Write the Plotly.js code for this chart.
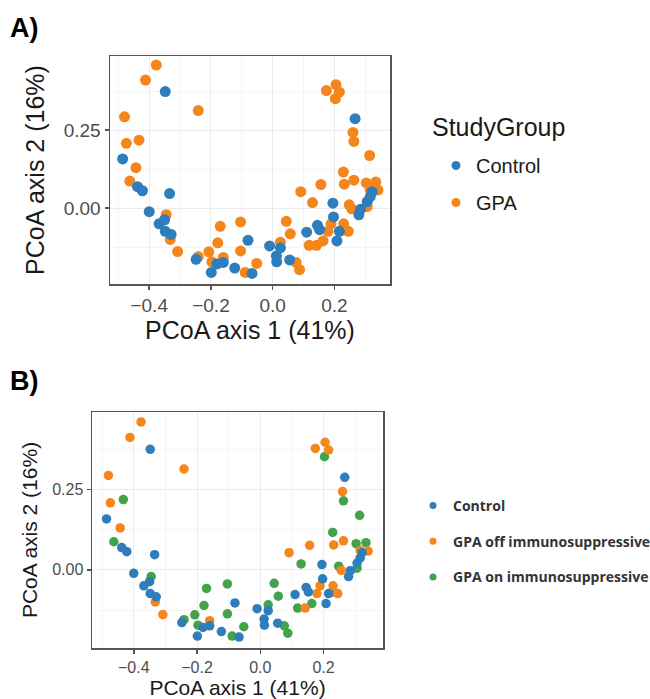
<!DOCTYPE html>
<html>
<head>
<meta charset="utf-8">
<script src="https://cdn.plot.ly/plotly-3.0.1.min.js"></script>
<style>
  html, body { margin: 0; padding: 0; background: #ffffff; }
  #chart { width: 650px; height: 699px; }
</style>
</head>
<body>
<div id="chart"></div>
<script>
// ---- Data (PCoA coordinates) ----
const ctrlX = [-0.348, -0.486, -0.438, -0.422, -0.334, -0.400, -0.368, -0.350, -0.348, -0.329,
               -0.248, -0.199, -0.181, -0.160, -0.123, -0.080, -0.067, -0.010, 0.012, 0.025,
               0.013, 0.055, 0.110, 0.145, 0.152, 0.195, 0.197, 0.216, 0.208, 0.267,
               0.279, 0.285, 0.306, 0.316, 0.322];
const ctrlY = [0.374, 0.158, 0.069, 0.056, 0.047, -0.011, -0.050, -0.037, -0.074, -0.084,
               -0.164, -0.206, -0.179, -0.174, -0.192, -0.103, -0.209, -0.121, -0.153, -0.127,
               -0.172, -0.166, -0.077, -0.055, -0.069, 0.016, -0.028, -0.074, -0.105, 0.287,
               -0.021, -0.003, 0.021, 0.037, 0.053];

const offX = [-0.377, -0.412, -0.480, -0.474, -0.443, -0.241, -0.332, -0.308, -0.160, 0.174,
              0.205, 0.216, 0.260, 0.091, 0.156, 0.232, 0.263, 0.256, 0.316, 0.341,
              0.189, 0.179, 0.230, 0.245, 0.142];
const offY = [0.459, 0.411, 0.293, 0.208, 0.130, 0.313, -0.100, -0.139, -0.158, 0.377,
              0.396, 0.372, 0.243, 0.053, 0.076, 0.077, 0.090, -0.002, 0.060, 0.058,
              -0.050, -0.074, -0.050, -0.074, -0.119];

const onX = [-0.433, -0.463, -0.345, -0.241, -0.207, -0.197, -0.170, -0.178, -0.104, -0.104,
             -0.089, -0.052, 0.044, 0.057, 0.025, 0.076, 0.087, 0.129, 0.118, 0.163,
             0.203, 0.263, 0.314, 0.229, 0.248, 0.303, 0.334, 0.306, 0.229];
const onY = [0.218, 0.087, -0.021, -0.155, -0.140, -0.172, -0.058, -0.111, -0.044, -0.137,
             -0.206, -0.177, -0.042, -0.082, -0.109, -0.174, -0.197, 0.018, -0.119, -0.105,
             0.351, 0.214, 0.169, 0.116, 0.011, 0.081, 0.084, 0.005, -0.069];

const groupsA = ["Control", "GPA"];
const groupsB = ["Control", "GPA off immunosuppressive", "GPA on immunosuppressive"];
const legendTitleA = "StudyGroup";
const xTitle = "PCoA axis 1 (41%)";
const yTitle = "PCoA axis 2 (16%)";

// ---- Styles ----
const BLUE = "#2f7ebc", ORANGE = "#f5861c", GREEN = "#43a34b";
const FONT = "Liberation Sans, Arial, sans-serif";
const W = 650, H = 699;

const gpaX = offX.concat(onX);
const gpaY = offY.concat(onY);

const traces = [
  // Panel A
  {x: gpaX, y: gpaY, xaxis: "x", yaxis: "y", type: "scatter", mode: "markers",
   marker: {color: ORANGE, size: 11}, showlegend: false, name: groupsA[1]},
  {x: ctrlX, y: ctrlY, xaxis: "x", yaxis: "y", type: "scatter", mode: "markers",
   marker: {color: BLUE, size: 11}, showlegend: false, name: groupsA[0]},
  // Panel B
  {x: onX, y: onY, xaxis: "x2", yaxis: "y2", type: "scatter", mode: "markers",
   marker: {color: GREEN, size: 9.5}, showlegend: false, name: groupsB[2]},
  {x: offX, y: offY, xaxis: "x2", yaxis: "y2", type: "scatter", mode: "markers",
   marker: {color: ORANGE, size: 9.5}, showlegend: false, name: groupsB[1]},
  {x: ctrlX, y: ctrlY, xaxis: "x2", yaxis: "y2", type: "scatter", mode: "markers",
   marker: {color: BLUE, size: 9.5}, showlegend: false, name: groupsB[0]},
  // Legend entries A
  {x: [null], y: [null], xaxis: "x", yaxis: "y", type: "scatter", mode: "markers",
   marker: {color: BLUE, size: 9}, name: groupsA[0], legend: "legend", legendgroup: "a1"},
  {x: [null], y: [null], xaxis: "x", yaxis: "y", type: "scatter", mode: "markers",
   marker: {color: ORANGE, size: 9}, name: groupsA[1], legend: "legend", legendgroup: "a2"},
  // Legend entries B
  {x: [null], y: [null], xaxis: "x2", yaxis: "y2", type: "scatter", mode: "markers",
   marker: {color: BLUE, size: 7}, name: groupsB[0], legend: "legend2", legendgroup: "b1"},
  {x: [null], y: [null], xaxis: "x2", yaxis: "y2", type: "scatter", mode: "markers",
   marker: {color: ORANGE, size: 7}, name: groupsB[1], legend: "legend2", legendgroup: "b2"},
  {x: [null], y: [null], xaxis: "x2", yaxis: "y2", type: "scatter", mode: "markers",
   marker: {color: GREEN, size: 7}, name: groupsB[2], legend: "legend2", legendgroup: "b3"}
];

function axisBase(tickSize, titleSize) {
  return {
    showline: true, mirror: true, linecolor: "#555555", linewidth: 1.5,
    ticks: "outside", ticklen: 4, tickwidth: 1.5, tickcolor: "#555555",
    showgrid: true, gridcolor: "#ebebeb", gridwidth: 1,
    zeroline: false, automargin: false,
    tickfont: {family: FONT, size: tickSize, color: "#4d4d4d"},
    title: {font: {family: FONT, size: titleSize, color: "#1a1a1a"}}
  };
}

const xa = axisBase(19, 25);
Object.assign(xa, {domain: [110/W, 390/W], range: [-0.527, 0.38], anchor: "y",
  tick0: 0, dtick: 0.2, tickformat: ".1f",
  minor: {tick0: 0, dtick: 0.1, showgrid: true, gridcolor: "#f3f3f3", gridwidth: 0.8, ticks: ""}});
xa.title.text = xTitle; xa.title.standoff = 5;

const ya = axisBase(19, 25);
Object.assign(ya, {domain: [1 - 284/H, 1 - 56/H], range: [-0.243, 0.488], anchor: "x",
  tick0: 0, dtick: 0.25, tickformat: ".2f",
  minor: {tick0: 0, dtick: 0.125, showgrid: true, gridcolor: "#f3f3f3", gridwidth: 0.8, ticks: ""}});
ya.title.text = yTitle; ya.title.standoff = 12;

const xb = axisBase(16, 21);
Object.assign(xb, {domain: [92/W, 383/W], range: [-0.532, 0.388], anchor: "y2",
  tick0: 0, dtick: 0.2, tickformat: ".1f",
  minor: {tick0: 0, dtick: 0.1, showgrid: true, gridcolor: "#f3f3f3", gridwidth: 0.8, ticks: ""}});
xb.title.text = xTitle; xb.title.standoff = 4;

const yb = axisBase(16, 21);
Object.assign(yb, {domain: [1 - 648/H, 1 - 412/H], range: [-0.243, 0.49], anchor: "x2",
  tick0: 0, dtick: 0.25, tickformat: ".2f",
  minor: {tick0: 0, dtick: 0.125, showgrid: true, gridcolor: "#f3f3f3", gridwidth: 0.8, ticks: ""}});
yb.title.text = yTitle; yb.title.standoff = 9;

const layout = {
  width: W, height: H,
  margin: {l: 0, r: 0, t: 0, b: 0, autoexpand: false},
  paper_bgcolor: "#ffffff", plot_bgcolor: "#ffffff",
  font: {family: FONT, color: "#1a1a1a"},
  xaxis: xa, yaxis: ya, xaxis2: xb, yaxis2: yb,
  showlegend: true,
  legend: {
    x: 436/W, y: 1 - 146/H, xanchor: "left", yanchor: "top",
    bgcolor: "rgba(0,0,0,0)", borderwidth: 0,
    font: {family: FONT, size: 20, color: "#1a1a1a"},
    traceorder: "grouped", tracegroupgap: 8
  },
  legend2: {
    x: 413/W, y: 1 - 490/H, xanchor: "left", yanchor: "top",
    bgcolor: "rgba(0,0,0,0)", borderwidth: 0,
    font: {family: "Open Sans, sans-serif", size: 14, color: "#333333", weight: "bold"},
    traceorder: "grouped", tracegroupgap: 14.5
  },
  annotations: [
    {text: legendTitleA, xref: "paper", yref: "paper", x: 430/W, y: 1 - 127/H,
     xanchor: "left", yanchor: "middle", showarrow: false,
     font: {family: FONT, size: 25, color: "#1a1a1a"}},
    {text: "<b>A)</b>", xref: "paper", yref: "paper", x: 8/W, y: 1 - 11/H,
     xanchor: "left", yanchor: "top", showarrow: false,
     font: {family: FONT, size: 27, color: "#000000"}},
    {text: "<b>B)</b>", xref: "paper", yref: "paper", x: 8/W, y: 1 - 364/H,
     xanchor: "left", yanchor: "top", showarrow: false,
     font: {family: FONT, size: 27, color: "#000000"}}
  ]
};

Plotly.newPlot("chart", traces, layout, {displayModeBar: false, staticPlot: true});
</script>
</body>
</html>
